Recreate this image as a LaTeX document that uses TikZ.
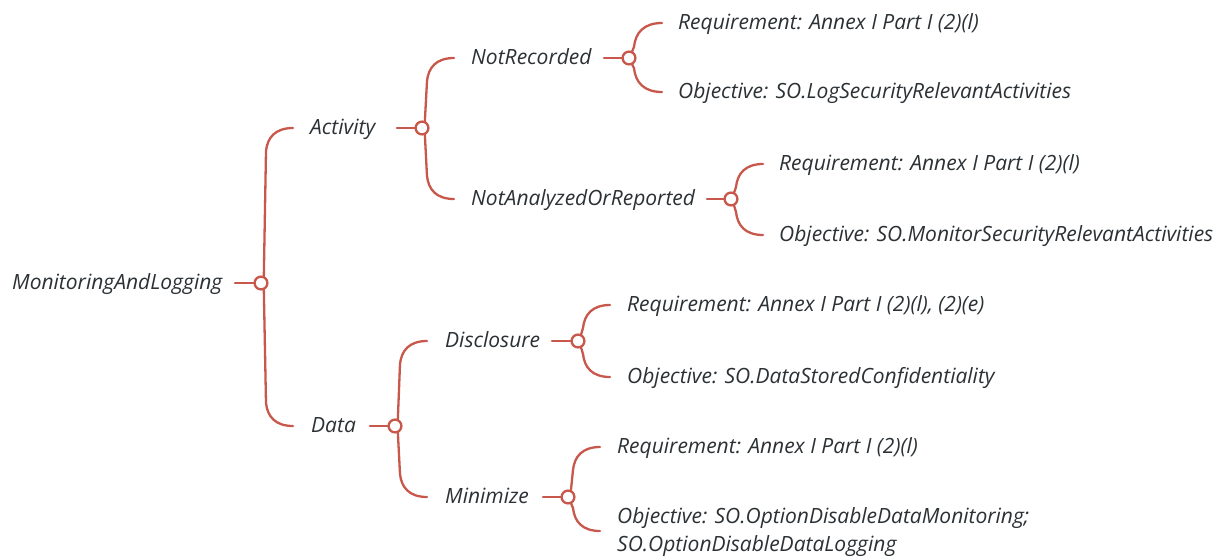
\documentclass[tikz,border=0pt]{standalone}
\usepackage{fontspec}
\setmainfont{Open Sans}
\usetikzlibrary{calc}
\definecolor{twigred}{HTML}{C9584C}
\definecolor{ink}{HTML}{2B3134}
\tikzset{
  branch/.style={draw=twigred, line width=2.3pt, line cap=round},
  knot/.style={circle, draw=twigred, fill=white, line width=2.3pt,
    minimum size=12.8pt, inner sep=0pt},
  leaf/.style={anchor=base west, inner sep=0pt, text=ink,
    font=\itshape\fontsize{21}{28}\selectfont},
}
% curved twig from a knot to the start of a child label;
% #3 = 1 for a child above, -1 for a child below
\newcommand\twig[3]{%
  \draw[branch] let \p1=(#1), \p2=(#2), \n1={0.85*(\x2-\x1-5pt)} in
    ({\x1+2.8pt},{\y1+(#3)*5.6pt}) -- ({\x1+5pt},{\y2-(#3)*\n1*1pt})
    .. controls ({\x1+5pt+0.06*\n1*1pt},{\y2-(#3)*0.42*\n1*1pt})
    and ({\x1+5pt+0.4*\n1*1pt},{\y2}) .. ({\x2},{\y2});
}
\begin{document}
\begin{tikzpicture}[x=1pt,y=-1pt]
\useasboundingbox[fill=white] (0,0) rectangle (1225,557);

% knot centres, stub starts and twig ends
\coordinate (k0) at (261,283);  \coordinate (s0) at (235,283);
\coordinate (e1) at (293,128);  \coordinate (s1) at (397,128);  \coordinate (k1) at (422,128);
\coordinate (e2) at (293,426);  \coordinate (s2) at (370,426);  \coordinate (k2) at (395,426);
\coordinate (e11) at (454,58);  \coordinate (s11) at (604,58);  \coordinate (k11) at (629,58);
\coordinate (e12) at (454,199); \coordinate (s12) at (707,199); \coordinate (k12) at (731,199);
\coordinate (e21) at (427,341); \coordinate (s21) at (552,341); \coordinate (k21) at (578,341);
\coordinate (e22) at (427,497); \coordinate (s22) at (543,497); \coordinate (k22) at (568,497);
\coordinate (e111) at (662,23);  \coordinate (e112) at (662,92);
\coordinate (e121) at (763,164); \coordinate (e122) at (763,235);
\coordinate (e211) at (610,305); \coordinate (e212) at (610,377);
\coordinate (e221) at (600,447); \coordinate (e222) at (600,531);

% labels
\node[leaf] (root) at (12,289.5) {MonitoringAndLogging};
\node[leaf] (act) at (310,134.5) {Activity};
\node[leaf] (dat) at (311,432) {Data};
\node[leaf] (nrec) at (471,64) {NotRecorded};
\node[leaf] (nana) at (471,205) {NotAnalyzedOrReported};
\node[leaf] (disc) at (445,347) {Disclosure};
\node[leaf] (mini) at (445,503) {Minimize};
\node[leaf] (r111) at (678,29) {Requirement: Annex I Part I (2)(l)};
\node[leaf] (o112) at (678,98) {Objective: SO.LogSecurityRelevantActivities};
\node[leaf] (r121) at (779,170) {Requirement: Annex I Part I (2)(l)};
\node[leaf] (o122) at (779,241) {Objective: SO.MonitorSecurityRelevantActivities};
\node[leaf] (r211) at (627,311) {Requirement: Annex I Part I (2)(l), (2)(e)};
\node[leaf] (o212) at (627,383) {Objective: SO.DataStoredConfidentiality};
\node[leaf] (r221) at (617,453) {Requirement: Annex I Part I (2)(l)};
\node[leaf, anchor=west, align=left] (o222) at (617,532)
  {Objective: SO.OptionDisableDataMonitoring;\\SO.OptionDisableDataLogging};

% stubs
\foreach \a/\b in {s0/k0, s1/k1, s2/k2, s11/k11, s12/k12, s21/k21, s22/k22}
  \draw[branch] (\a) -- (\b);

% twigs
\twig{k0}{e1}{1}   \twig{k0}{e2}{-1}
\twig{k1}{e11}{1}  \twig{k1}{e12}{-1}
\twig{k2}{e21}{1}  \twig{k2}{e22}{-1}
\twig{k11}{e111}{1} \twig{k11}{e112}{-1}
\twig{k12}{e121}{1} \twig{k12}{e122}{-1}
\twig{k21}{e211}{1} \twig{k21}{e212}{-1}
\twig{k22}{e221}{1} \twig{k22}{e222}{-1}

% knots on top
\foreach \k in {k0,k1,k2,k11,k12,k21,k22}
  \node[knot] (c\k) at (\k) {};
\end{tikzpicture}
\end{document}
